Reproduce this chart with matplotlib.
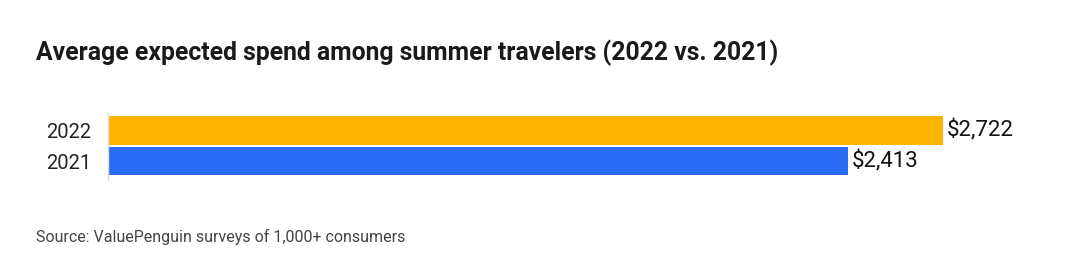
import matplotlib.pyplot as plt

# data
years = ["2021", "2022"]
spend = [2413, 2722]
bar_colors = ["#2B6CF6", "#FBB300"]
value_labels = ["$2,413", "$2,722"]

plt.rcParams["font.family"] = ["Roboto", "DejaVu Sans"]

fig = plt.figure(figsize=(10.8, 2.7), dpi=100)
ax = fig.add_axes([0.1, 0.333, 0.826, 0.248])

ax.barh([0, 1], spend, height=0.92, color=bar_colors)
ax.set_xlim(0, 2907)
ax.set_ylim(-0.62, 1.57)

ax.set_yticks([0, 1])
ax.set_yticklabels(years, fontsize=14.5, color="#222222")
ax.tick_params(axis="y", length=0, pad=12)
ax.set_xticks([])

for s in ["top", "right", "bottom"]:
    ax.spines[s].set_visible(False)
ax.spines["left"].set_color("#dddddd")
ax.spines["left"].set_linewidth(1)

for i, (v, lab) in enumerate(zip(spend, value_labels)):
    ax.text(v + 10, i, lab, va="center", ha="left", fontsize=16, color="#111111")

fig.text(0.033, 0.805, "Average expected spend among summer travelers (2022 vs. 2021)",
         fontsize=17.8, fontweight="bold", color="#1a1a1a", va="center")
fig.text(0.033, 0.122, "Source: ValuePenguin surveys of 1,000+ consumers",
         fontsize=11.5, color="#444444", va="center")

plt.savefig("out.png", dpi=100)
